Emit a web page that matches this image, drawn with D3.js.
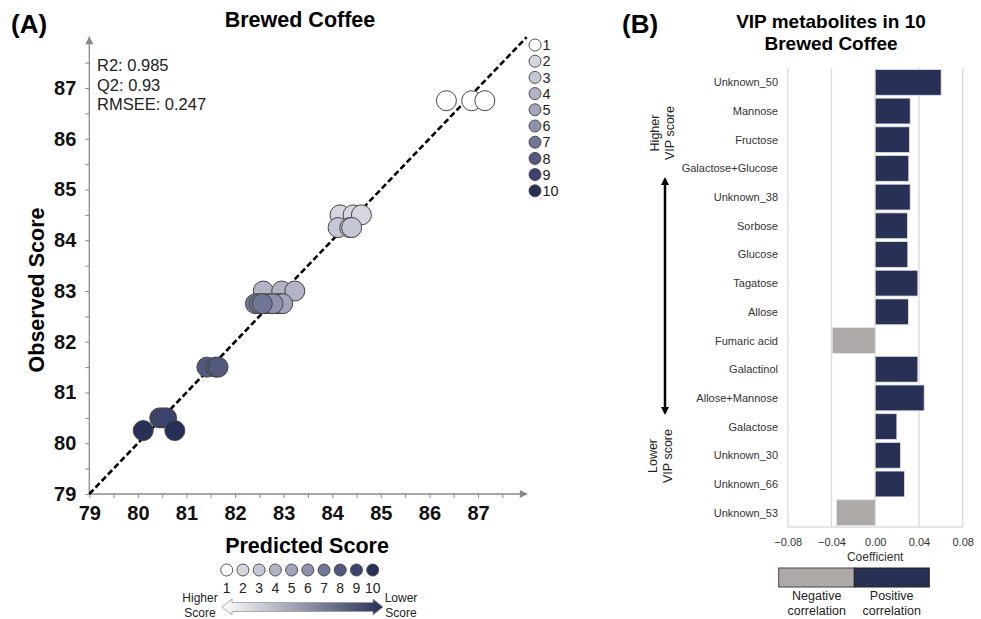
<!DOCTYPE html>
<html>
<head>
<meta charset="utf-8">
<script src="https://cdn.jsdelivr.net/npm/d3@7"></script>
<style>
  html, body { margin: 0; padding: 0; background: #fff; }
  svg { display: block; font-family: "Liberation Sans", Arial, Helvetica, sans-serif; }
</style>
</head>
<body>
<svg id="fig" width="981" height="619"></svg>
<script>
// ---- Panel A: PLS predicted vs observed cupping score ----
const classLabels = ["1", "2", "3", "4", "5", "6", "7", "8", "9", "10"];
const classColors = ["#ffffff", "#d5d6e0", "#c5c7d4", "#b2b4c6", "#a2a5ba", "#8d91ab", "#707695", "#53597d", "#3b4270", "#283058"];

// one entry per sample: quality class, predicted score, observed score
const sampleClass     = [1, 1, 1, 2, 2, 2, 3, 3, 3, 4, 4, 4, 5, 5, 5, 6, 6, 6, 7, 7, 7, 8, 8, 8, 9, 9, 9, 10, 10];
const samplePredicted = [86.35, 86.87, 87.14, 84.16, 84.43, 84.6, 84.12, 84.36, 84.4, 82.58, 82.96, 83.23,
                         82.86, 82.92, 82.98, 82.62, 82.7, 82.78, 82.42, 82.5, 82.56, 81.42, 81.6, 81.65,
                         80.45, 80.52, 80.59, 80.11, 80.76];
const sampleObserved  = [86.75, 86.75, 86.75, 84.5, 84.5, 84.5, 84.25, 84.25, 84.25, 83.0, 83.0, 83.0,
                         82.75, 82.75, 82.75, 82.75, 82.75, 82.75, 82.75, 82.75, 82.75, 81.5, 81.5, 81.5,
                         80.5, 80.5, 80.5, 80.25, 80.25];
const axisTicks = [79, 80, 81, 82, 83, 84, 85, 86, 87];
const modelStats = ["R2: 0.985", "Q2: 0.93", "RMSEE: 0.247"];

// ---- Panel B: VIP metabolites, regression coefficients ----
const metabolites = ["Unknown_50", "Mannose", "Fructose", "Galactose+Glucose", "Unknown_38", "Sorbose",
                     "Glucose", "Tagatose", "Allose", "Fumaric acid", "Galactinol", "Allose+Mannose",
                     "Galactose", "Unknown_30", "Unknown_66", "Unknown_53"];
const coefficients = [0.0603, 0.032, 0.0314, 0.0307, 0.032, 0.0295, 0.0298, 0.039, 0.0304, -0.0393,
                      0.039, 0.0448, 0.0198, 0.0231, 0.0268, -0.0354];
const coefTicks = [-0.08, -0.04, 0.00, 0.04, 0.08];

const NAVY = "#283056", GREY = "#aeaaaa";
const svg = d3.select("#fig");

// ================= Panel A =================
const x = d3.scaleLinear().domain([79, 87]).range([89.3, 478]);
const y = d3.scaleLinear().domain([79, 87]).range([494, 88]);
const colorOf = d3.scaleOrdinal().domain(d3.range(1, 11)).range(classColors);

svg.append("text").attr("x", 11).attr("y", 33).attr("font-size", 26).attr("font-weight", "bold").text("(A)");
svg.append("text").attr("x", 300).attr("y", 27).attr("text-anchor", "middle")
  .attr("font-size", 21.5).attr("font-weight", "bold").text("Brewed Coffee");

const axisCol = "#8a8a8a";
const defs = svg.append("defs");
defs.append("marker").attr("id", "ahead").attr("viewBox", "0 0 10 10")
  .attr("refX", 9).attr("refY", 5).attr("markerWidth", 10).attr("markerHeight", 8)
  .attr("markerUnits", "userSpaceOnUse").attr("orient", "auto")
  .append("path").attr("d", "M0,0 L10,5 L0,10 Z").attr("fill", axisCol);

// axes lines with arrow tips
svg.append("line").attr("x1", x(79)).attr("y1", y(79)).attr("x2", 527).attr("y2", y(79))
  .attr("stroke", axisCol).attr("stroke-width", 1.3).attr("marker-end", "url(#ahead)");
svg.append("line").attr("x1", x(79)).attr("y1", y(79)).attr("x2", x(79)).attr("y2", 37)
  .attr("stroke", axisCol).attr("stroke-width", 1.3).attr("marker-end", "url(#ahead)");

const minor = d3.range(79, 87.6, 0.5);
const xAx = d3.axisBottom(x).tickValues(minor).tickSize(4)
  .tickFormat(d => Number.isInteger(d) ? d : "");
const gx = svg.append("g").attr("transform", `translate(0,${y(79)})`).call(xAx);
gx.select(".domain").remove();
gx.selectAll("line").attr("stroke", axisCol);
gx.selectAll("text").attr("font-size", 20).attr("font-weight", "bold").attr("fill", "#111")
  .attr("dy", "0.95em").attr("font-family", "Liberation Sans, Arial, sans-serif");

const yAx = d3.axisLeft(y).tickValues(minor).tickSize(4)
  .tickFormat(d => Number.isInteger(d) ? d : "");
const gy = svg.append("g").attr("transform", `translate(${x(79)},0)`).call(yAx);
gy.select(".domain").remove();
gy.selectAll("line").attr("stroke", axisCol);
gy.selectAll("text").attr("font-size", 20).attr("font-weight", "bold").attr("fill", "#111")
  .attr("x", -13).attr("font-family", "Liberation Sans, Arial, sans-serif");

svg.append("text").attr("transform", `translate(44,${(y(79) + y(87)) / 2 - 1}) rotate(-90)`)
  .attr("text-anchor", "middle").attr("font-size", 21.5).attr("font-weight", "bold").text("Observed Score");
svg.append("text").attr("x", 307).attr("y", 553).attr("text-anchor", "middle")
  .attr("font-size", 21.5).attr("font-weight", "bold").text("Predicted Score");

// model statistics
svg.append("g").selectAll("text").data(modelStats).join("text")
  .attr("x", 97).attr("y", (d, i) => 71 + i * 19.5)
  .attr("font-size", 16.5).attr("fill", "#222").text(d => d);

// identity line
svg.append("line").attr("x1", x(79)).attr("y1", y(79)).attr("x2", x(88)).attr("y2", y(88))
  .attr("stroke", "#000").attr("stroke-width", 2.6).attr("stroke-dasharray", "6,3");

// samples
const samples = sampleClass.map((c, i) => ({ c, p: samplePredicted[i], o: sampleObserved[i] }));
svg.append("g").selectAll("circle").data(samples).join("circle")
  .attr("cx", d => x(d.p)).attr("cy", d => y(d.o)).attr("r", 10)
  .attr("fill", d => colorOf(d.c)).attr("stroke", "#444").attr("stroke-width", 1);

// class legend (right)
const lg = svg.append("g");
lg.selectAll("circle").data(classLabels).join("circle")
  .attr("cx", 535).attr("cy", (d, i) => 45 + i * 16.2).attr("r", 6)
  .attr("fill", (d, i) => classColors[i]).attr("stroke", "#444").attr("stroke-width", 0.9);
lg.selectAll("text").data(classLabels).join("text")
  .attr("x", 542.5).attr("y", (d, i) => 45 + i * 16.2 + 5.2)
  .attr("font-size", 14.5).attr("fill", "#222").text(d => d);

// class legend (bottom)
const bx = d3.scalePoint().domain(classLabels).range([226.7, 372.7]);
const bl = svg.append("g");
bl.selectAll("circle").data(classLabels).join("circle")
  .attr("cx", d => bx(d)).attr("cy", 570).attr("r", 6)
  .attr("fill", (d, i) => classColors[i]).attr("stroke", "#444").attr("stroke-width", 0.9);
bl.selectAll("text").data(classLabels).join("text")
  .attr("x", d => bx(d)).attr("y", 593).attr("text-anchor", "middle")
  .attr("font-size", 14).attr("fill", "#222").text(d => d);

// gradient double-headed arrow
const grad = defs.append("linearGradient").attr("id", "scoreGrad")
  .attr("x1", "0%").attr("x2", "100%").attr("y1", "0%").attr("y2", "0%");
grad.append("stop").attr("offset", "0%").attr("stop-color", "#ffffff");
grad.append("stop").attr("offset", "100%").attr("stop-color", "#283058");
const ax0 = 222, ax1 = 383, acy = 607, sh = 4.5, hh = 8, hl = 10;
svg.append("path")
  .attr("d", `M${ax0},${acy} L${ax0 + hl},${acy - hh} L${ax0 + hl},${acy - sh} L${ax1 - hl},${acy - sh}
              L${ax1 - hl},${acy - hh} L${ax1},${acy} L${ax1 - hl},${acy + hh} L${ax1 - hl},${acy + sh}
              L${ax0 + hl},${acy + sh} L${ax0 + hl},${acy + hh} Z`)
  .attr("fill", "url(#scoreGrad)").attr("stroke", "#9a9a9a").attr("stroke-width", 0.8);
[["Higher", 200, 602], ["Score", 200, 617], ["Lower", 401, 602], ["Score", 401, 617]].forEach(t => {
  svg.append("text").attr("x", t[1]).attr("y", t[2]).attr("text-anchor", "middle")
    .attr("font-size", 12).attr("fill", "#222").text(t[0]);
});

// ================= Panel B =================
const cx = d3.scaleLinear().domain([-0.08, 0.08]).range([787.7, 962.7]);
const cy = d3.scaleBand().domain(metabolites).range([68, 527]).paddingInner(0.1).paddingOuter(0.05);

svg.append("text").attr("x", 622).attr("y", 33).attr("font-size", 26).attr("font-weight", "bold").text("(B)");
svg.append("text").attr("x", 831).attr("y", 28).attr("text-anchor", "middle")
  .attr("font-size", 19).attr("font-weight", "bold").text("VIP metabolites in 10");
svg.append("text").attr("x", 831).attr("y", 50).attr("text-anchor", "middle")
  .attr("font-size", 19).attr("font-weight", "bold").text("Brewed Coffee");

// grid
svg.append("g").selectAll("line").data(coefTicks).join("line")
  .attr("x1", d => cx(d)).attr("x2", d => cx(d)).attr("y1", 68).attr("y2", 527)
  .attr("stroke", "#dcdcdc").attr("stroke-width", 1.4);
svg.append("line").attr("x1", cx(-0.08)).attr("x2", cx(0.08)).attr("y1", 527).attr("y2", 527)
  .attr("stroke", "#dcdcdc").attr("stroke-width", 1.4);

// bars
svg.append("g").selectAll("rect").data(metabolites).join("rect")
  .attr("x", (d, i) => cx(Math.min(0, coefficients[i])))
  .attr("y", d => cy(d))
  .attr("width", (d, i) => Math.abs(cx(coefficients[i]) - cx(0)))
  .attr("height", cy.bandwidth())
  .attr("fill", (d, i) => coefficients[i] >= 0 ? NAVY : GREY)
  .attr("stroke", "#e4e4ea").attr("stroke-width", 0.8);

// category labels
svg.append("g").selectAll("text").data(metabolites).join("text")
  .attr("x", 778).attr("y", d => cy(d) + cy.bandwidth() / 2 + 4)
  .attr("text-anchor", "end").attr("font-size", 11).attr("fill", "#333").text(d => d);

// coefficient axis
const gc = svg.append("g").attr("transform", "translate(0,527)")
  .call(d3.axisBottom(cx).tickValues(coefTicks).tickSize(0).tickFormat(d3.format(".2f")));
gc.select(".domain").remove();
gc.selectAll("text").attr("font-size", 11).attr("fill", "#333").attr("dy", "1.45em")
  .attr("font-family", "Liberation Sans, Arial, sans-serif");
svg.append("text").attr("x", cx(0)).attr("y", 561).attr("text-anchor", "middle")
  .attr("font-size", 12).attr("fill", "#333").text("Coefficient");

// correlation legend
svg.append("rect").attr("x", 778.7).attr("y", 568).attr("width", 854.3 - 778.7).attr("height", 19)
  .attr("fill", GREY).attr("stroke", "#444").attr("stroke-width", 1);
svg.append("rect").attr("x", 854.3).attr("y", 568).attr("width", 929.3 - 854.3).attr("height", 19)
  .attr("fill", NAVY).attr("stroke", "#222").attr("stroke-width", 1);
[["Negative", 816.7, 600], ["correlation", 816.7, 615], ["Positive", 891.7, 600], ["correlation", 891.7, 615]].forEach(t => {
  svg.append("text").attr("x", t[1]).attr("y", t[2]).attr("text-anchor", "middle")
    .attr("font-size", 12.5).attr("fill", "#222").text(t[0]);
});

// VIP rank arrow
defs.append("marker").attr("id", "vhead").attr("viewBox", "0 0 10 10")
  .attr("refX", 5).attr("refY", 5).attr("markerWidth", 8).attr("markerHeight", 10)
  .attr("markerUnits", "userSpaceOnUse").attr("orient", "auto-start-reverse")
  .append("path").attr("d", "M0,0 L10,5 L0,10 Z").attr("fill", "#000");
svg.append("line").attr("x1", 665).attr("x2", 665).attr("y1", 181).attr("y2", 411)
  .attr("stroke", "#000").attr("stroke-width", 2.5)
  .attr("marker-start", "url(#vhead)").attr("marker-end", "url(#vhead)");
[["Higher", 659, 133], ["VIP score", 674, 133], ["Lower", 657, 456], ["VIP score", 672, 456]].forEach(t => {
  svg.append("text").attr("transform", `translate(${t[1]},${t[2]}) rotate(-90)`)
    .attr("text-anchor", "middle").attr("font-size", 12.5).attr("fill", "#222").text(t[0]);
});
</script>
</body>
</html>
